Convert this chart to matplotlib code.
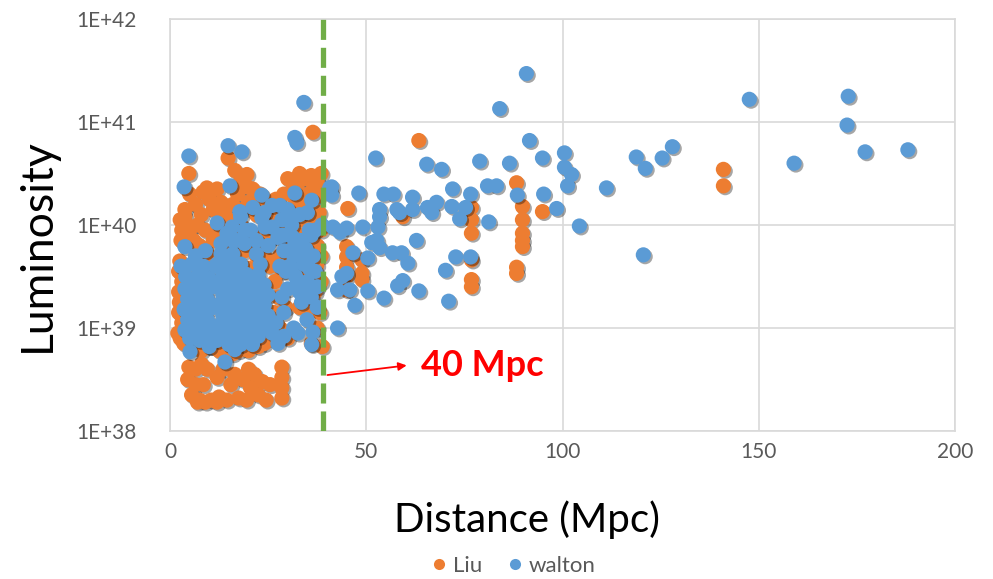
import matplotlib
matplotlib.use("Agg")
import matplotlib.pyplot as plt
from matplotlib import patheffects as pe
from matplotlib.lines import Line2D

# ---------------- data (distance in Mpc, log10 luminosity) ----------------
liu_distance = [
    36.4, 4.8, 9.4, 8.4, 14.8, 16.5, 19.6, 17.8, 19.6, 17.2, 3.8, 3.8, 4.3, 2.6,
    33.0, 34.5, 36.0, 37.5, 35.2, 32.0, 37.8, 30.5, 35.5, 38.0, 33.5, 31.5,
    11.0, 13.0, 15.0, 20.0, 22.0, 24.0, 26.0, 28.0, 7.0, 9.0, 12.0, 18.0, 23.0,
    27.5, 30.0, 33.0, 36.0, 38.5, 6.0, 2.8, 2.5, 3.0, 2.4, 3.0, 2.6, 5.0, 7.0,
    9.0, 11.0, 13.0, 16.0, 19.0, 21.0, 24.0, 27.0, 30.0, 33.0, 35.0, 37.0, 38.5,
    36.5, 38.2, 38.8, 34.0, 20.0, 22.0, 26.7, 25.5, 28.0, 31.0, 8.0, 9.0, 5.0,
    10.0, 14.0, 17.0, 21.0, 24.0,
    5.0, 6.5, 8.0, 10.0, 12.0, 14.0, 16.0, 18.5, 21.0, 23.0, 25.0, 27.0, 29.0,
    30.0, 32.5, 34.0, 36.5, 38.5, 29.0, 31.0, 36.0, 3.0, 5.0, 7.5, 11.0, 13.0,
    15.5, 19.0, 22.0, 25.0, 26.5, 28.5, 29.5, 32.0, 34.5, 37.5, 37.0, 38.5, 35.5,
    37.5, 36.0, 2.2, 2.2, 2.2, 2.0, 3.5, 8.0, 10.0, 12.5, 14.5, 17.5, 20.0, 22.5,
    25.5, 28.0, 26.5, 29.5, 27.5,
    4.5, 5.5, 6.5, 7.5, 8.5, 9.5, 10.5, 12.0, 12.5, 13.5, 14.5, 15.5, 16.5, 17.5,
    18.5, 19.5, 20.5, 21.5, 22.5, 23.5, 24.5, 25.5, 6.5, 8.0, 20.0, 4.8, 28.5,
    28.5, 28.5, 28.5, 7.0, 9.0, 12.0,
    45.3, 45.0, 45.0, 45.0, 45.0, 45.0, 48.9, 48.9, 48.9, 59.3, 63.4, 76.8, 76.8,
    76.8, 76.8, 76.8, 76.8, 88.3, 89.8, 89.8, 89.8, 89.8, 89.8, 88.3, 88.3, 94.9,
    141.0, 141.0, 37.4,
]
liu_log_lum = [
    40.90, 40.50, 40.36, 40.32, 40.65, 40.53, 40.49, 40.41, 40.37, 40.30, 40.15,
    40.08, 40.00, 40.05,
    40.50, 40.45, 40.48, 40.42, 40.30, 40.22, 40.28, 40.15, 40.15, 40.12, 40.05,
    40.38,
    40.15, 40.22, 40.05, 40.22, 40.10, 40.20, 40.05, 40.15, 40.00, 39.95, 39.95,
    40.00, 39.90,
    39.95, 39.85, 39.90, 39.85, 39.95, 39.85, 39.85, 39.65, 39.45, 39.25, 39.05,
    38.90, 38.80, 38.85,
    38.90, 38.82, 38.85, 38.75, 38.80, 38.90, 38.85, 38.95, 38.90, 39.20, 39.35,
    39.50, 39.70,
    39.65, 39.15, 38.82, 39.55, 39.58, 39.50, 39.45, 39.60, 39.70, 39.65, 39.55,
    39.30, 39.10,
    39.70, 39.75, 39.85, 39.80, 39.70,
    40.30, 40.20, 40.10, 40.25, 40.35, 40.10, 40.20, 40.15, 40.35, 40.30, 40.10,
    40.25, 40.30,
    40.45, 40.40, 40.20, 40.35, 40.50, 40.00, 40.05, 40.05, 39.95, 39.95, 39.80,
    39.85, 39.90,
    39.95, 39.75, 39.70, 39.85, 39.65, 39.55, 39.80, 39.60, 39.85, 39.80, 39.35,
    39.45, 39.20,
    39.00, 38.85, 39.55, 39.35, 39.15, 38.95, 38.85, 38.78, 38.82, 38.78, 38.82,
    38.78, 38.78, 38.82,
    38.90, 39.00, 39.15, 39.20, 39.30,
    38.50, 38.35, 38.60, 38.30, 38.45, 38.60, 38.30, 38.52, 38.33, 38.60, 38.30,
    38.45, 38.55, 38.32,
    38.50, 38.30, 38.42, 38.55, 38.35, 38.48, 38.30, 38.45, 38.45, 38.65, 38.60,
    38.62, 38.62,
    38.52, 38.42, 38.32, 38.28, 38.28, 38.28,
    40.16, 39.79, 39.69, 39.59, 39.50, 39.37, 39.66, 39.53, 39.47, 40.08, 40.82,
    40.17, 40.05,
    39.92, 39.66, 39.47, 39.40, 40.41, 40.18, 40.05, 39.92, 39.85, 39.79, 39.59,
    39.53, 40.13,
    40.54, 40.38, 39.61,
]

walton_distance = [
    34.1, 4.8, 3.6, 14.8, 18.3, 15.3, 31.8, 32.3, 23.4, 17.8, 21.1, 26.0, 28.0,
    31.8, 36.1, 35.0, 29.8, 15.8, 19.0, 23.4, 24.2, 3.8, 16.8, 27.5, 31.3, 32.8,
    34.6, 38.7, 37.0,
    5.5, 8.5, 4.0, 7.0, 10.0, 3.8, 6.0, 8.5, 11.0, 4.5, 7.0, 9.5, 3.6, 6.0, 8.5,
    11.0, 4.5, 7.0, 9.5, 3.8, 6.0, 8.5, 11.0, 5.0, 7.5, 10.0,
    13.0, 16.0, 22.0, 12.0, 15.0, 18.0, 23.0, 13.5, 16.5, 19.5, 22.5,
    12.0, 15.0, 18.0, 21.0, 24.0, 13.5, 16.5, 19.5, 22.5, 25.0,
    12.0, 15.0, 18.0, 21.0, 24.0, 13.5, 16.5, 19.5, 22.5, 25.0,
    12.0, 15.0, 18.0, 21.0, 24.0, 13.5, 16.5, 19.5, 22.5, 15.0, 18.0, 21.0,
    29.0, 31.5, 34.0, 29.5, 32.0, 35.0, 30.0, 33.0, 36.0, 37.0, 28.5,
    34.9, 32.6, 36.1, 5.1, 14.0, 16.5, 36.4,
    13.0, 16.0, 19.0, 22.0, 25.0, 14.5, 20.5, 26.0, 28.5, 12.0, 18.0, 24.0, 30.0,
    33.0, 35.5, 33.5, 36.5, 31.0, 33.5, 29.0, 27.0, 26.0, 27.5, 10.0, 12.0, 37.5,
    31.5, 29.0, 2.8, 6.5, 9.0, 11.5, 28.0, 31.0,
    30.5, 33.0, 35.5, 32.5, 34.5, 29.0, 31.5, 36.0, 37.5, 28.0,
    90.8, 84.0, 147.6, 172.8, 172.5, 177.1, 188.0, 159.0, 91.6, 94.9, 100.5,
    100.5, 102.3, 101.3, 95.2, 98.5, 104.3, 111.2, 118.8, 121.1, 125.4, 128.0,
    120.6,
    52.4, 65.4, 69.2, 78.9, 86.5,
    41.2, 41.2, 48.1, 54.5, 56.9, 61.8, 67.9, 72.0, 76.6, 80.9, 83.2, 88.5,
    81.2, 73.8, 71.8, 75.3, 65.6, 66.7, 61.8, 57.8, 58.5, 53.4, 53.4, 53.0, 52.7,
    49.1, 51.4, 53.4, 56.7, 59.0, 60.6, 62.8, 72.8, 76.6, 70.2, 58.0, 59.3, 63.4,
    71.0, 54.5, 50.4, 47.1, 46.6, 50.4, 43.8, 45.0, 42.7, 45.8, 42.7, 41.5, 43.3,
    45.0, 40.7,
]
walton_log_lum = [
    41.19, 40.67, 40.37, 40.77, 40.71, 40.38, 40.85, 40.80, 40.29, 40.13, 40.17,
    40.19, 40.19,
    40.31, 40.24, 40.12, 40.07, 39.98, 39.95, 40.07, 39.98, 39.79, 39.85, 39.88,
    39.88, 39.80,
    39.77, 40.00, 39.95,
    39.62, 39.60, 39.50, 39.50, 39.48, 39.38, 39.40, 39.38, 39.40, 39.28, 39.28,
    39.28, 39.18, 39.18, 39.18,
    39.20, 39.08, 39.08, 39.08, 38.98, 38.98, 38.98, 39.00, 38.90, 38.88, 38.90,
    39.72, 39.72, 39.72, 39.62, 39.62, 39.62, 39.62, 39.52, 39.52, 39.52, 39.52,
    39.42, 39.42, 39.42, 39.42, 39.42, 39.32, 39.32, 39.32, 39.32, 39.32,
    39.22, 39.22, 39.22, 39.22, 39.22, 39.12, 39.12, 39.12, 39.12, 39.12,
    39.02, 39.02, 39.02, 39.02, 39.02, 38.92, 38.92, 38.92, 38.92, 38.84, 38.84,
    38.84,
    39.75, 39.70, 39.62, 39.55, 39.50, 39.45, 39.38, 39.35, 39.30, 39.55, 39.30,
    39.08, 38.95, 38.84, 38.77, 38.67, 38.79, 38.96,
    39.82, 39.85, 39.82, 39.85, 39.80, 39.92, 39.95, 39.98, 40.05, 40.02, 40.08,
    40.12, 40.15,
    40.10, 39.95, 39.85, 39.70, 39.55, 39.25, 39.15, 39.05, 38.95, 38.85, 38.82,
    38.88, 39.20,
    39.00, 38.92, 39.60, 39.70, 39.75, 39.60, 39.90, 40.00,
    39.60, 39.70, 39.58, 39.45, 39.35, 39.90, 39.78, 39.90, 39.40, 39.60,
    41.47, 41.13, 41.22, 41.25, 40.97, 40.71, 40.73, 40.60, 40.82, 40.65, 40.70,
    40.56, 40.49, 40.38, 40.30, 40.16, 39.99, 40.36, 40.66, 40.55, 40.65, 40.76,
    39.71,
    40.65, 40.59, 40.54, 40.62, 40.60,
    40.37, 40.29, 40.31, 40.30, 40.30, 40.27, 40.22, 40.35, 40.30, 40.38, 40.38,
    40.29,
    40.03, 40.06, 40.18, 40.17, 40.17, 40.12, 40.15, 40.15, 40.12, 40.15, 40.08,
    39.98, 39.85,
    39.98, 39.83, 39.78, 39.73, 39.73, 39.63, 39.85, 39.69, 39.69, 39.56, 39.41,
    39.46, 39.36,
    39.26, 39.29, 39.36, 39.22, 39.73, 39.68, 39.50, 39.53, 39.37, 39.37, 39.00,
    39.98, 39.93,
    39.97, 40.36,
]

x_ticks = [0, 50, 100, 150, 200]
y_ticks = [1e38, 1e39, 1e40, 1e41, 1e42]
y_tick_labels = ["1E+38", "1E+39", "1E+40", "1E+41", "1E+42"]
cutoff_distance = 39
cutoff_label = "40 Mpc"
series_names = ["Liu", "walton"]

# ---------------- styling ----------------
ORANGE = "#ED7D31"
BLUE = "#5B9BD5"
GREEN = "#70AD47"
GRID = "#D9D9D9"
TICK = "#595959"
FONT = ["Lato", "DejaVu Sans"]
plt.rcParams["font.family"] = FONT

fig = plt.figure(figsize=(9.93, 5.79), dpi=100)
ax = fig.add_axes([170 / 993, 1 - 431 / 579, (955 - 170) / 993, (431 - 19) / 579])

shadow = [pe.SimplePatchShadow(offset=(1.3, -1.3), shadow_rgbFace="k", alpha=0.35),
          pe.Normal()]

liu_lum = [10 ** v for v in liu_log_lum]
walton_lum = [10 ** v for v in walton_log_lum]

s1 = ax.scatter(liu_distance, liu_lum, s=120, color=ORANGE, linewidths=0, zorder=3)
s2 = ax.scatter(walton_distance, walton_lum, s=120, color=BLUE, linewidths=0, zorder=3)
s1.set_path_effects(shadow)
s2.set_path_effects(shadow)

ax.set_yscale("log")
ax.set_xlim(0, 200)
ax.set_ylim(1e38, 1e42)
ax.set_xticks(x_ticks)
ax.set_xticklabels([str(t) for t in x_ticks])
ax.set_yticks(y_ticks)
ax.set_yticklabels(y_tick_labels)
ax.yaxis.set_minor_locator(matplotlib.ticker.NullLocator())
ax.tick_params(axis="both", length=0, labelsize=15, labelcolor=TICK)
ax.tick_params(axis="x", pad=8)
ax.tick_params(axis="y", pad=24)
ax.grid(True, color=GRID, linewidth=1.2, zorder=0)
ax.set_axisbelow(True)
for sp in ax.spines.values():
    sp.set_color(GRID)
    sp.set_linewidth(1.2)

ax.axvline(cutoff_distance, color=GREEN, linewidth=3.8, dashes=(3.8, 1.5), zorder=5)

ax.annotate("", xy=(61.0, 10 ** 38.64), xytext=(39.4, 10 ** 38.54),
            arrowprops=dict(arrowstyle="-|>", color="red", lw=1.3,
                            mutation_scale=12), zorder=6)
ax.text(64.0, 10 ** 38.64, cutoff_label, color="red", fontsize=26,
        fontweight="bold", va="center", ha="left", zorder=6)

fig.text(37 / 993, 1 - 245 / 579, "Luminosity", rotation=90, fontsize=32,
         ha="center", va="center", color="black")
fig.text(527 / 993, 1 - 520 / 579, "Distance (Mpc)", fontsize=29,
         ha="center", va="center", color="black")

handles = [Line2D([], [], marker="o", linestyle="none", markersize=8,
                  color=c, markeredgewidth=0) for c in (ORANGE, BLUE)]
leg = fig.legend(handles, series_names, loc="center",
                 bbox_to_anchor=(512 / 993, 1 - 566 / 579), ncol=2, frameon=False,
                 fontsize=16, handletextpad=0.1, columnspacing=1.0,
                 handlelength=1.0)
for t in leg.get_texts():
    t.set_color(TICK)

fig.savefig("out.png", dpi=100)
